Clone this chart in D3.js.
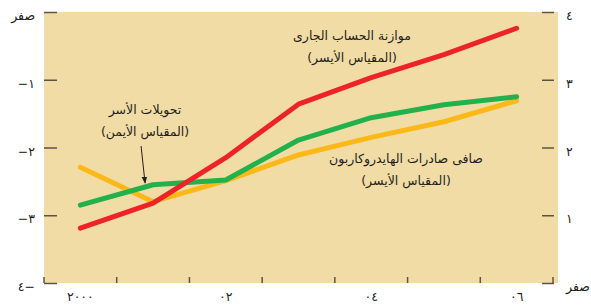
<!DOCTYPE html>
<html>
<head>
<meta charset="utf-8">
<script src="https://cdn.jsdelivr.net/npm/d3@7"></script>
<style>
  body { margin: 0; background: #fff; }
  svg text { font-family: "DejaVu Sans", sans-serif; fill: #231f20; }
</style>
</head>
<body>
<svg id="chart"></svg>
<script>
// السنوات والقيم
const years = [2000, 2001, 2002, 2003, 2004, 2005, 2006];
const yearLabels = {2000: "٢٠٠٠", 2002: "٠٢", 2004: "٠٤", 2006: "٠٦"};

// موازنة الحساب الجارى (المقياس الأيسر)
const currentAccount = [-3.19, -2.82, -2.15, -1.36, -0.97, -0.63, -0.24];
// صافى صادرات الهايدروكاربون (المقياس الأيسر)
const hydrocarbon = [-2.29, -2.80, -2.49, -2.11, -1.85, -1.62, -1.31];
// تحويلات الأسر (المقياس الأيمن)
const remittances = [1.15, 1.45, 1.52, 2.11, 2.44, 2.63, 2.75];

const leftTicks = [0, -1, -2, -3, -4];
const leftLabels = {0: "صفر", "-1": "−١", "-2": "−٢", "-3": "−٣", "-4": "٤−"};
const rightTicks = [4, 3, 2, 1, 0];
const rightLabels = {4: "٤", 3: "٣", 2: "٢", 1: "١", 0: "صفر"};

const width = 591, height = 305;
const plot = { left: 44, right: 553, top: 12, bottom: 283 };

const svg = d3.select("#chart")
    .attr("width", width)
    .attr("height", height);

// خلفية
svg.append("rect")
    .attr("x", plot.left)
    .attr("y", plot.top)
    .attr("width", plot.right - plot.left + 5)
    .attr("height", plot.bottom - plot.top)
    .attr("fill", "#f2dca6");

const x = d3.scaleBand()
    .domain(years)
    .range([plot.left, plot.right])
    .padding(0);

const yL = d3.scaleLinear().domain([-4, 0]).range([plot.bottom, plot.top]);
const yR = d3.scaleLinear().domain([0, 4]).range([plot.bottom, plot.top]);

const tickColor = "#5b5346";

// المحور الأيسر
const gL = svg.append("g")
    .attr("transform", `translate(${plot.left},0)`)
    .call(d3.axisLeft(yL).tickValues(leftTicks).tickSize(-13).tickPadding(9)
        .tickFormat(d => leftLabels[d]));
gL.select(".domain").remove();
gL.selectAll(".tick line").attr("stroke", tickColor).attr("stroke-width", 1.5);
gL.selectAll(".tick text").attr("font-size", 12.5).attr("dy", "0.6em");

// المحور الأيمن
const gR = svg.append("g")
    .attr("transform", `translate(${plot.right + 1},0)`)
    .call(d3.axisRight(yR).tickValues(rightTicks).tickSize(-12).tickPadding(12)
        .tickFormat(d => rightLabels[d]));
gR.select(".domain").remove();
gR.selectAll(".tick line").attr("stroke", tickColor).attr("stroke-width", 1.5);
gR.selectAll(".tick text").attr("font-size", 12.5).attr("dy", "0.6em");

// علامات المحور السفلي على حدود السنوات
const bounds = years.map(d => x(d)).concat([x(years[years.length - 1]) + x.bandwidth()]);
svg.append("g").selectAll("line")
    .data(bounds)
    .join("line")
    .attr("x1", d => d).attr("x2", d => d)
    .attr("y1", plot.bottom - 6).attr("y2", plot.bottom)
    .attr("stroke", tickColor)
    .attr("stroke-width", 1.5);

svg.append("g").selectAll("text")
    .data(years.filter(d => yearLabels[d]))
    .join("text")
    .attr("x", d => x(d) + x.bandwidth() / 2)
    .attr("y", 301)
    .attr("text-anchor", "middle")
    .attr("font-size", 12.5)
    .text(d => yearLabels[d]);

// الخطوط
const cx = d => x(d) + x.bandwidth() / 2;
const series = [
    { values: hydrocarbon, scale: yL, color: "#fbb817" },
    { values: remittances, scale: yR, color: "#22b14c" },
    { values: currentAccount, scale: yL, color: "#ed2327" }
];

series.forEach(s => {
    const line = d3.line()
        .x((d, i) => cx(years[i]))
        .y(d => s.scale(d));
    svg.append("path")
        .datum(s.values)
        .attr("d", line)
        .attr("fill", "none")
        .attr("stroke", s.color)
        .attr("stroke-width", 5)
        .attr("stroke-linecap", "round")
        .attr("stroke-linejoin", "round");
});

// التعليقات
function label(lines, xPos, yPos) {
    const t = svg.append("text")
        .attr("x", xPos)
        .attr("y", yPos)
        .attr("text-anchor", "middle")
        .attr("font-size", 12.5)
        .attr("direction", "rtl");
    lines.forEach((l, i) => {
        t.append("tspan")
            .attr("x", xPos)
            .attr("dy", i === 0 ? 0 : 22)
            .text(l);
    });
}

label(["موازنة الحساب الجارى", "(المقياس الأيسر)"], 352, 40);
label(["صافى صادرات الهايدروكاربون", "(المقياس الأيسر)"], 406, 163);
label(["تحويلات الأسر", "(المقياس الأيمن)"], 145, 114);

// سهم
svg.append("defs").append("marker")
    .attr("id", "arrow")
    .attr("viewBox", "0 0 10 10")
    .attr("refX", 9).attr("refY", 5)
    .attr("markerWidth", 7).attr("markerHeight", 7)
    .attr("orient", "auto")
    .append("path")
    .attr("d", "M0,1 L10,5 L0,9 z")
    .attr("fill", "#231f20");

svg.append("line")
    .attr("x1", cx(2001) - 12).attr("y1", 146)
    .attr("x2", cx(2001) - 8).attr("y2", 183)
    .attr("stroke", "#231f20")
    .attr("stroke-width", 1)
    .attr("marker-end", "url(#arrow)");
</script>
</body>
</html>
